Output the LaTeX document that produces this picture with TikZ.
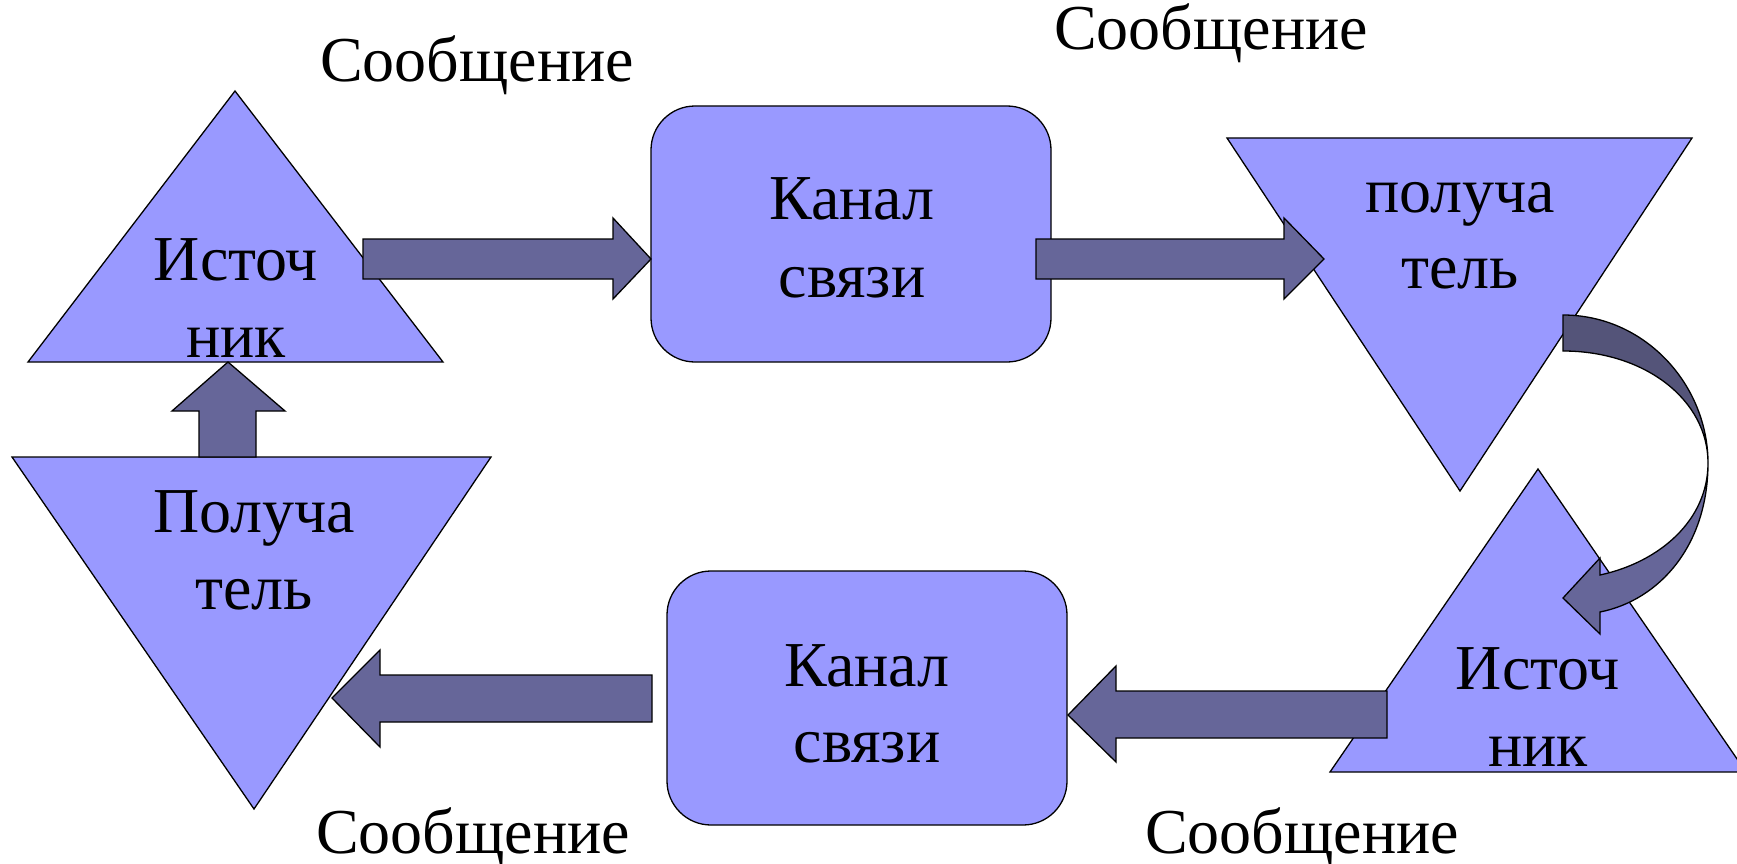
\documentclass[tikz,border=0pt]{standalone}
\usepackage{fontspec}
\setmainfont{Liberation Serif}
\definecolor{shapefill}{HTML}{9999FF}
\definecolor{arrowfill}{HTML}{666699}
\definecolor{arrowdark}{HTML}{545479}
\tikzset{
  shapebox/.style={draw=black, fill=shapefill, line width=1.3pt, line join=miter},
  blockarrow/.style={draw=black, fill=arrowfill, line width=1.3pt, line join=miter},
  darkband/.style={draw=black, fill=arrowdark, line width=1.3pt},
  lbl/.style={font=\fontsize{64}{77}\selectfont, inner sep=0pt, anchor=base},
}
\begin{document}
\begin{tikzpicture}[x=1pt,y=-1pt]
\useasboundingbox (0,0) rectangle (1737,864);
\begin{scope}
\clip (0,0) rectangle (1737,864);
% shapes
\draw[shapebox] (235,91) -- (443,362) -- (28,362) -- cycle;
\draw[shapebox, rounded corners=44pt] (651,106) rectangle (1051,362);
\draw[shapebox] (1227,138) -- (1692,138) -- (1460,491) -- cycle;
\draw[shapebox] (12,457) -- (491,457) -- (254,809) -- cycle;
\draw[shapebox, rounded corners=44pt] (667,571) rectangle (1067,825);
\draw[shapebox] (1538,469) -- (1746,772) -- (1330,772) -- cycle;
% straight block arrows
\draw[blockarrow] (363,239) -- (613,239) -- (613,218) -- (651,259) -- (613,299) -- (613,279) -- (363,279) -- cycle;
\draw[blockarrow] (1036,239) -- (1284,239) -- (1284,218) -- (1324,259) -- (1284,299) -- (1284,279) -- (1036,279) -- cycle;
\draw[blockarrow] (1387,691) -- (1116,691) -- (1116,666) -- (1068,715) -- (1116,762) -- (1116,738) -- (1387,738) -- cycle;
\draw[blockarrow] (652,675) -- (380,675) -- (380,650) -- (332,698) -- (380,747) -- (380,722) -- (652,722) -- cycle;
\draw[blockarrow] (199,457) -- (199,411) -- (172,411) -- (228,362) -- (285,411) -- (256,411) -- (256,457) -- cycle;
% curved arrow
\draw[blockarrow] (1708,463) .. controls (1708,545) and (1660,600) .. (1600,612)
  -- (1600,634) -- (1563,598) -- (1600,558) -- (1600,575)
  .. controls (1660,562) and (1708,520) .. (1708,463) -- cycle;
\draw[darkband] (1563,315) .. controls (1645,315) and (1708,385) .. (1708,463)
  .. controls (1708,400) and (1645,351) .. (1563,351) -- cycle;
% labels
\node[lbl] (src1a) at (236,280) {Источ};
\node[lbl] (src1b) at (236,357) {ник};
\node[lbl] (ch1a) at (852,219) {Канал};
\node[lbl] (ch1b) at (852,297) {связи};
\node[lbl] (rc1a) at (1460,212) {получа};
\node[lbl] (rc1b) at (1460,288) {тель};
\node[lbl] (rc2a) at (254,532) {Получа};
\node[lbl] (rc2b) at (254,609) {тель};
\node[lbl] (ch2a) at (867,686) {Канал};
\node[lbl] (ch2b) at (867,762) {связи};
\node[lbl] (src2a) at (1538,689) {Источ};
\node[lbl] (src2b) at (1538,766) {ник};
\node[lbl] (msg1) at (477,82) {Сообщение};
\node[lbl] (msg2) at (1211,50) {Сообщение};
\node[lbl] (msg3) at (473,853) {Сообщение};
\node[lbl] (msg4) at (1302,853) {Сообщение};
\end{scope}
\end{tikzpicture}
\end{document}
